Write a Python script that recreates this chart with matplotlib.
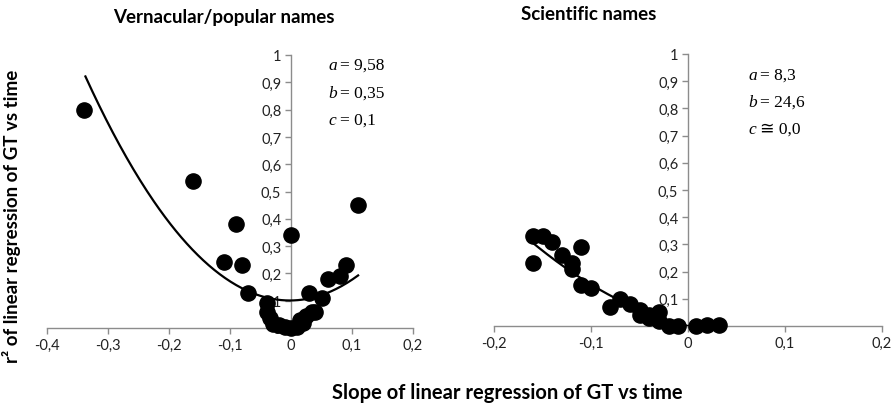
import numpy as np
import matplotlib
matplotlib.use("Agg")
import matplotlib.pyplot as plt

# ---- data: vernacular/popular names ----
vern_x = [-0.34, -0.16, -0.09, -0.11, -0.08, -0.07, 0.0, 0.11, 0.09, 0.08, 0.06, 0.05, 0.03,
          -0.04, -0.04, -0.035, -0.03, -0.02, -0.01, 0.0, 0.01, 0.015, 0.02, 0.025, 0.035, 0.04]
vern_y = [0.80, 0.54, 0.38, 0.24, 0.23, 0.13, 0.34, 0.45, 0.23, 0.19, 0.18, 0.11, 0.13,
          0.09, 0.06, 0.035, 0.015, 0.01, 0.005, 0.0, 0.005, 0.03, 0.02, 0.045, 0.06, 0.06]
# trend line
vern_trend_x = [-0.337, -0.273, -0.208, -0.068, 0.0, 0.05, 0.11]
vern_trend_y = [0.918, 0.643, 0.411, 0.131, 0.10, 0.12, 0.194]

# ---- data: scientific names ----
sci_x = [-0.16, -0.15, -0.14, -0.16, -0.11, -0.13, -0.12, -0.12, -0.11, -0.10, -0.08, -0.07,
         -0.06, -0.05, -0.05, -0.04, -0.04, -0.03, -0.03, -0.02, -0.01, 0.008, 0.02, 0.032]
sci_y = [0.33, 0.33, 0.31, 0.23, 0.29, 0.26, 0.23, 0.21, 0.15, 0.14, 0.07, 0.10,
         0.08, 0.06, 0.04, 0.03, 0.04, 0.05, 0.02, 0.0, 0.0, 0.0, 0.005, 0.005]
sci_trend_x = [-0.163, -0.12, -0.077, 0.0]
sci_trend_y = [0.314, 0.20, 0.105, 0.0]

titles = ["Vernacular/popular names", "Scientific names"]
vern_xticks = [-0.4, -0.3, -0.2, -0.1, 0.0, 0.1, 0.2]
sci_xticks = [-0.2, -0.1, 0.0, 0.1, 0.2]
yticks = [0.0, 0.1, 0.2, 0.3, 0.4, 0.5, 0.6, 0.7, 0.8, 0.9, 1.0]
param_names = ["a", "b", "c"]
vern_params = ["= 9,58", "= 0,35", "= 0,1"]
sci_params = ["= 8,3", "= 24,6", "≅ 0,0"]
xlabel = "Slope of linear regression of GT vs time"
ylabel = "r² of linear regression of GT vs time"

W, H = 894, 406
fig = plt.figure(figsize=(W / 100, H / 100), dpi=100)

def fmt(v):
    s = ("%g" % round(v, 2)).replace(".", ",")
    return "0" if s in ("0", "-0") else s

axcol = "#8c8c8c"
tick_font = dict(family="Lato", size=10.5, color="#222222")
serif = ["Liberation Serif", "DejaVu Sans"]

def setup(ax, xlim, xticks):
    ax.set_xlim(*xlim)
    ax.set_ylim(0, 1)
    for s in ("top", "right"):
        ax.spines[s].set_visible(False)
    ax.spines["left"].set_position(("data", 0))
    ax.spines["bottom"].set_position(("data", 0))
    for s in ("left", "bottom"):
        ax.spines[s].set_color(axcol)
        ax.spines[s].set_linewidth(1.0)
    ax.set_xticks(xticks)
    ax.set_xticklabels([fmt(v) for v in xticks], **tick_font)
    ax.set_yticks(yticks)
    ax.set_yticklabels([fmt(v) for v in yticks], **tick_font)
    ax.tick_params(axis="both", direction="out", length=4, width=1.0, color=axcol, pad=3)
    ax.patch.set_alpha(0)

def params(x0, y0, dy, values):
    for i, (n, v) in enumerate(zip(param_names, values)):
        y = 1 - (y0 + dy * i) / H
        fig.text(x0 / W, y, n, family=serif, style="italic", fontsize=12.5,
                 va="center", ha="left")
        fig.text((x0 + 12) / W, y, v, family=serif, fontsize=12.5,
                 va="center", ha="left")

# left panel
ax1 = fig.add_axes([47 / W, 1 - 329 / H, 366 / W, 273 / H])
setup(ax1, (-0.4, 0.2), vern_xticks)
c1 = np.polyfit(vern_trend_x, vern_trend_y, 2)
xx1 = np.linspace(min(vern_trend_x), max(vern_trend_x), 200)
ax1.plot(xx1, np.polyval(c1, xx1), color="black", lw=1.6, zorder=3)
ax1.scatter(vern_x, vern_y, s=120, color="black", zorder=4, clip_on=False)
params(328, 66, 27.5, vern_params)

# right panel
ax2 = fig.add_axes([494 / W, 1 - 327 / H, 388 / W, 272 / H])
setup(ax2, (-0.2, 0.2), sci_xticks)
c2 = np.polyfit(sci_trend_x, sci_trend_y, 2)
xx2 = np.linspace(min(sci_trend_x), max(sci_trend_x), 200)
ax2.plot(xx2, np.polyval(c2, xx2), color="black", lw=1.6, zorder=3)
ax2.scatter(sci_x, sci_y, s=120, color="black", zorder=4, clip_on=False)
params(748, 76, 27, sci_params)

# titles and axis labels
fig.text(224 / W, 1 - 17 / H, titles[0], family="Lato", weight="bold", fontsize=13.5,
         ha="center", va="center")
fig.text(589 / W, 1 - 15 / H, titles[1], family="Lato", weight="bold", fontsize=13.5,
         ha="center", va="center")
fig.text(507 / W, 1 - 393 / H, xlabel, family="Lato", weight="bold", fontsize=14.5,
         ha="center", va="center")
fig.text(12 / W, 1 - 216 / H, ylabel, family="Lato", weight="bold", fontsize=13.5,
         ha="center", va="center", rotation=90)

fig.savefig("out.png", dpi=100)
